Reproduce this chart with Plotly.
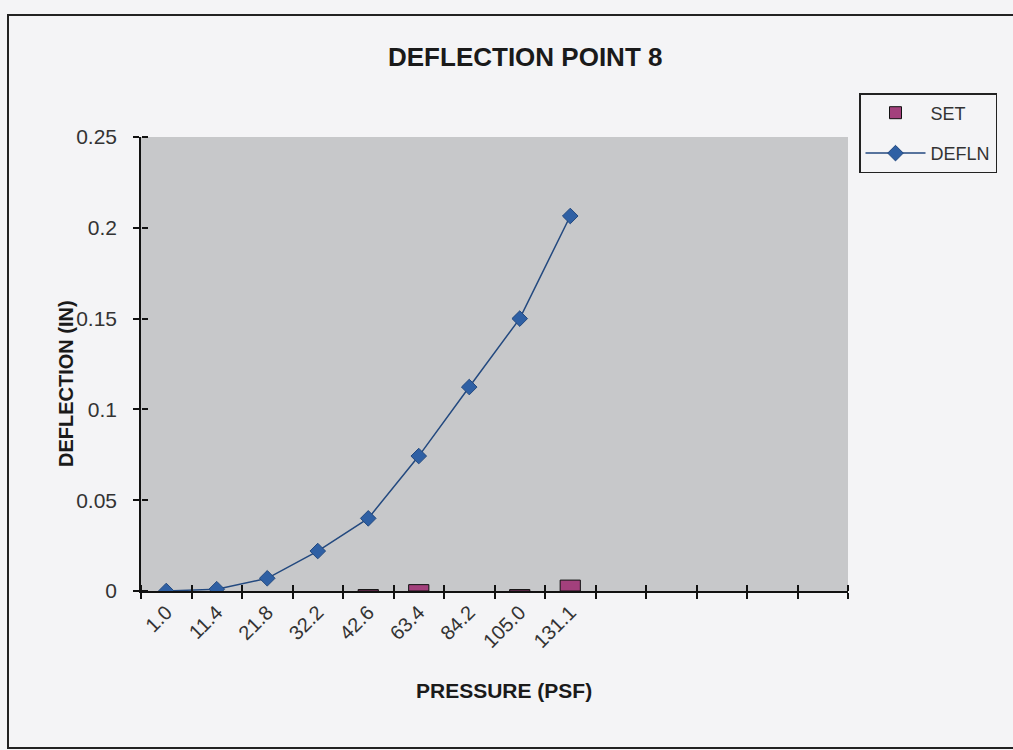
import plotly.graph_objects as go

pressure = ["1.0", "11.4", "21.8", "32.2", "42.6", "63.4", "84.2", "105.0", "131.1"]
pad_categories = [" ", "  ", "   ", "    ", "     "]
defln = [0.0, 0.001, 0.007, 0.022, 0.040, 0.0743, 0.1123, 0.150, 0.2065]
set_vals = [None, None, None, None, 0.0008, 0.0035, None, 0.0008, 0.006]
y_ticks = [0, 0.05, 0.1, 0.15, 0.2, 0.25]

categories = pressure + pad_categories

W, H = 1013, 750
L, R, T, B = 141, 848, 137, 591

def px(x):
    return (x - L) / (R - L)

def py(y):
    return (B - y) / (B - T)

font_family = "Liberation Sans, Arial, sans-serif"

fig = go.Figure()
fig.add_trace(go.Bar(
    x=pressure, y=set_vals, name="SET", width=0.4, legendgroup="set",
    marker=dict(color="#a3407c", line=dict(color="#111111", width=1)),
))
fig.add_trace(go.Scatter(
    x=pressure, y=defln, name="DEFLN", mode="lines+markers", legendgroup="defln",
    line=dict(color="#23497f", width=1.5),
    marker=dict(symbol="diamond", size=12, color="#2f60a4", line=dict(color="#23497f", width=1)),
))
# second set of axes carrying the inner half of the crossing tick marks
fig.add_trace(go.Scatter(
    x=pressure, y=defln, xaxis="x2", yaxis="y2", mode="markers",
    marker=dict(color="rgba(0,0,0,0)"), showlegend=False, hoverinfo="skip",
))

axis_common = dict(showgrid=False, zeroline=False, linecolor="#111111", linewidth=1.5,
                   tickcolor="#111111", tickwidth=1.5)

fig.update_layout(
    width=W, height=H,
    margin=dict(l=L, r=W - R, t=T, b=H - B),
    paper_bgcolor="#f4f4f6",
    plot_bgcolor="#c7c8ca",
    font=dict(family=font_family, color="#222222"),
    showlegend=True,
    xaxis=dict(
        type="category", categoryorder="array", categoryarray=categories,
        range=[-0.5, len(categories) - 0.5], tickson="boundaries",
        ticks="outside", ticklen=6, tickangle=-45,
        tickfont=dict(size=20, color="#333333"),
        showline=True, **axis_common,
    ),
    yaxis=dict(
        range=[0, 0.25], tickvals=y_ticks, ticks="outside", ticklen=6,
        tickfont=dict(size=21, color="#333333"), ticklabelstandoff=12,
        showline=True, **axis_common,
    ),
    xaxis2=dict(
        type="category", categoryorder="array", categoryarray=categories,
        range=[-0.5, len(categories) - 0.5], tickson="boundaries",
        ticks="outside", ticklen=6, showticklabels=False,
        overlaying="x", side="top", anchor="free", position=0,
        showline=False, **axis_common,
    ),
    yaxis2=dict(
        range=[0, 0.25], tickvals=y_ticks, ticks="outside", ticklen=6,
        showticklabels=False, overlaying="y", side="right", anchor="free", position=0,
        showline=False, **axis_common,
    ),
    legend=dict(
        x=px(859), y=py(93), xanchor="left", yanchor="top",
        bgcolor="#f4f4f6", bordercolor="#222222", borderwidth=1.5,
        font=dict(size=18, color="#333333"), itemwidth=60,
        tracegroupgap=14,
    ),
    annotations=[
        dict(text="<b>DEFLECTION POINT 8</b>", x=px(525), y=py(57), xref="paper", yref="paper",
             showarrow=False, font=dict(size=26, color="#1a1a1a"), xanchor="center", yanchor="middle"),
        dict(text="<b>PRESSURE (PSF)</b>", x=px(504), y=py(690), xref="paper", yref="paper",
             showarrow=False, font=dict(size=21, color="#1a1a1a"), xanchor="center", yanchor="middle"),
        dict(text="<b>DEFLECTION (IN)</b>", x=px(66), y=py(384), xref="paper", yref="paper",
             showarrow=False, textangle=-90, font=dict(size=20, color="#1a1a1a"),
             xanchor="center", yanchor="middle"),
    ],
    shapes=[
        dict(type="rect", xref="paper", yref="paper",
             x0=px(8), x1=px(1030), y0=py(748), y1=py(15),
             line=dict(color="#222222", width=2), fillcolor="rgba(0,0,0,0)", layer="below"),
    ],
)

fig.write_html("out.html", config={"displayModeBar": False},
               post_script="document.body.style.margin='0';")
